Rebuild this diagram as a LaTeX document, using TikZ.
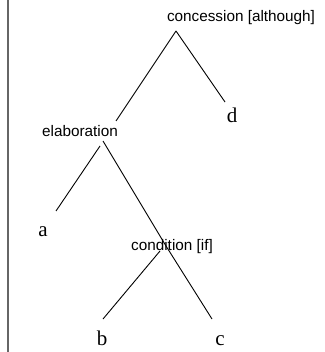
\documentclass[tikz,border=0pt]{standalone}
\usepackage{fontspec}
\setmainfont{Liberation Serif}
\setsansfont{Liberation Sans}
\begin{document}
\begin{tikzpicture}[x=1pt,y=-1pt,
  rel/.style={font=\sffamily\fontsize{15.3}{16}\selectfont, inner sep=0pt, anchor=base},
  leaf/.style={font=\rmfamily\fontsize{21}{22}\selectfont, inner sep=0pt, anchor=base},
  branch/.style={line width=0.9pt, black},
  frame/.style={line width=1.4pt, black!60}]
\useasboundingbox (0,0) rectangle (324,352);
\coordinate (ftop) at (8,0);
\coordinate (fbot) at (8,352);
\draw[frame] (ftop) -- (fbot);
% nodes
\node[rel] (con) at (241,22) {concession [although]};
\node[rel] (elab) at (80,136.5) {elaboration};
\node[rel] (cond) at (172,250.5) {condition [if]};
\node[leaf] (a) at (43,236.5) {a};
\node[leaf] (b) at (102,345) {b};
\node[leaf] (c) at (220,345) {c};
\node[leaf] (d) at (232,123) {d};
% attachment points
\coordinate (conapex) at (176,31);
\coordinate (elabtop) at (116,121);
\coordinate (dtop) at (225,102);
\coordinate (elabl) at (100,146);
\coordinate (atop) at (56,211);
\coordinate (elabr) at (103,141);
\coordinate (condx) at (166,246);
\coordinate (ctop) at (212,319);
\coordinate (condl) at (160,251);
\coordinate (btop) at (103,319);
% connectors
\draw[branch] (conapex) -- (elabtop);
\draw[branch] (conapex) -- (dtop);
\draw[branch] (elabl) -- (atop);
\draw[branch] (elabr) -- (condx) -- (ctop);
\draw[branch] (condl) -- (btop);
\end{tikzpicture}
\end{document}
